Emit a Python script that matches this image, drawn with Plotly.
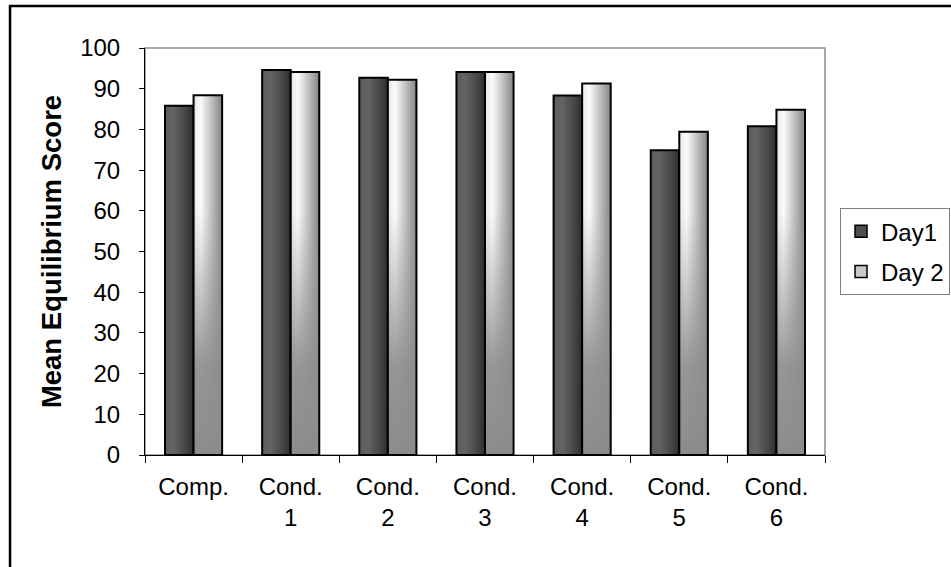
import plotly.graph_objects as go

# Mean equilibrium scores by condition and day
categories = ["Comp.", "Cond.<br>1", "Cond.<br>2", "Cond.<br>3", "Cond.<br>4", "Cond.<br>5", "Cond.<br>6"]
day1 = [85.8, 94.6, 92.7, 94.1, 88.3, 74.9, 80.8]
day2 = [88.4, 94.1, 92.2, 94.1, 91.3, 79.4, 84.8]
y_ticks = [0, 10, 20, 30, 40, 50, 60, 70, 80, 90, 100]

FONT = "Arial, Liberation Sans, sans-serif"
BAR_W = 0.294  # width of one bar in category units

DAY1_SCALE = [[0, "#5c5c5c"], [0.3, "#646464"], [0.75, "#444444"], [1, "#2c2c2c"]]
DAY2_SCALE = [[0, "#e6e6e6"], [0.25, "#fbfbfb"], [0.6, "#c4c4c4"], [1, "#848484"]]
# darkening toward the baseline of the light bars
DAY2_SHADE = [[0, "rgba(140,140,140,1)"], [0.22, "rgba(142,142,142,0.92)"],
              [0.42, "rgba(150,150,150,0.45)"], [0.6, "rgba(160,160,160,0)"],
              [1, "rgba(160,160,160,0)"]]

fig = go.Figure()

for i, (v1, v2) in enumerate(zip(day1, day2)):
    left, mid, right = i - BAR_W, i, i + BAR_W
    fig.add_trace(go.Scatter(
        x=[left, left, mid, mid, left], y=[0, v1, v1, 0, 0],
        mode="lines", fill="toself",
        fillgradient=dict(type="horizontal", colorscale=DAY1_SCALE),
        line=dict(color="black", width=2),
        showlegend=False, hoverinfo="skip"))
    fig.add_trace(go.Scatter(
        x=[mid, mid, right, right, mid], y=[0, v2, v2, 0, 0],
        mode="lines", fill="toself",
        fillgradient=dict(type="horizontal", colorscale=DAY2_SCALE),
        line=dict(color="rgba(0,0,0,0)", width=0),
        showlegend=False, hoverinfo="skip"))
    fig.add_trace(go.Scatter(
        x=[mid, mid, right, right, mid], y=[0, v2, v2, 0, 0],
        mode="lines", fill="toself",
        fillgradient=dict(type="vertical", colorscale=DAY2_SHADE, start=0, stop=100),
        line=dict(color="black", width=2),
        showlegend=False, hoverinfo="skip"))

# legend entries
fig.add_trace(go.Bar(x=[None], y=[None], name="Day1", legendgroup="d1",
                     marker=dict(color="#4e4e4e", line=dict(color="black", width=1.5))))
fig.add_trace(go.Bar(x=[None], y=[None], name="Day 2", legendgroup="d2",
                     marker=dict(color="#c8c8c8", line=dict(color="black", width=1.5))))

fig.update_layout(
    width=951, height=567,
    margin=dict(l=145, r=126, t=48, b=112),
    paper_bgcolor="white", plot_bgcolor="white",
    font=dict(family=FONT, size=24, color="black"),
    showlegend=True,
    legend=dict(xref="container", yref="container", x=0.8833, y=0.633,
                xanchor="left", yanchor="top",
                bordercolor="#808080", borderwidth=1, bgcolor="white",
                font=dict(size=24), traceorder="grouped", tracegroupgap=6),
    xaxis=dict(range=[-0.5, 6.5], tickmode="array",
               tickvals=list(range(len(categories))), ticktext=categories,
               ticks="", showline=True, linecolor="black", linewidth=1,
               showgrid=False, zeroline=False, ticklabelstandoff=10,
               minor=dict(ticks="outside", ticklen=7, tickcolor="black",
                          tick0=0.5, dtick=1, showgrid=False)),
    yaxis=dict(range=[0, 100], tickmode="array", tickvals=y_ticks,
               ticks="outside", ticklen=5, tickcolor="black",
               showline=True, linecolor="black", linewidth=1,
               showgrid=False, zeroline=False, ticklabelstandoff=14,
               title=dict(text="<b>Mean Equilibrium Score</b>",
                          font=dict(size=27.5), standoff=10)),
    shapes=[
        # plot-area frame (top and right edges show)
        dict(type="rect", xref="paper", yref="paper", x0=0, x1=1, y0=0, y1=1,
             line=dict(color="#8c8c8c", width=1.5), layer="below"),
        # chart frame
        dict(type="rect", xref="paper", yref="paper",
             x0=-0.1985, x1=1.25, y0=-0.35, y1=1.103,
             line=dict(color="black", width=2.5), layer="below"),
    ],
)

fig.write_html("out.html")
